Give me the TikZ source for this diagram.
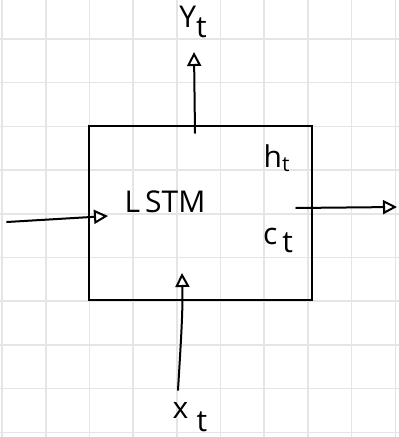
\documentclass[tikz,border=0pt]{standalone}
\usepackage{fontspec}
\setmainfont{Open Sans}
\usetikzlibrary{arrows.meta}
\begin{document}
\begin{tikzpicture}[x=0.5pt,y=-0.5pt,
  sketch/.style={line width=1pt,line cap=round},
  tip/.style={-{Triangle[open,length=7pt,width=7pt,line width=1pt]}},
  lbl/.style={font=\fontsize{15}{17}\selectfont,inner sep=0pt}]
\useasboundingbox (0,0) rectangle (399,437);
\fill[white] (0,0) rectangle (399,437);
% grid paper
\foreach \i in {0,...,9}{
  \draw[black!10,line width=0.8pt] (2+43.7*\i,0) -- (2+43.7*\i,437);
  \draw[black!10,line width=0.8pt] (0,39+43.7*\i) -- (399,39+43.7*\i);
}
% cell
\node (cell) [draw,sketch,line cap=butt,minimum width=111.5pt,minimum height=87pt,inner sep=0pt] at (200.5,213) {};
\node (name) [lbl] at (165,202) {L\,STM};
\node (ht) [lbl] at (277,158) {h\textsubscript{t}};
\node (ct) [lbl] at (278,240) {c\,\raisebox{-0.5ex}{t}};
\node (yt) [lbl] at (193,22) {Y\raisebox{-0.6ex}{t}};
\node (xt) [lbl] at (190,417) {x\;\raisebox{-0.8ex}{t}};
% connectors
\coordinate (yfoot) at (195,133);
\coordinate (yhead) at (194,52);
\coordinate (hin) at (7,222);
\coordinate (hinhead) at (108,216);
\coordinate (hout) at (296,208);
\coordinate (outhead) at (397,207);
\coordinate (xin) at (178,390);
\coordinate (xinhead) at (182,273);
\draw[sketch,tip] (yfoot) -- (yhead);
\draw[sketch,tip] (hin) -- (hinhead);
\draw[sketch,tip] (hout) -- (outhead);
\draw[sketch,tip] (xin) .. controls (181,340) and (183,310) .. (xinhead);
\end{tikzpicture}
\end{document}
